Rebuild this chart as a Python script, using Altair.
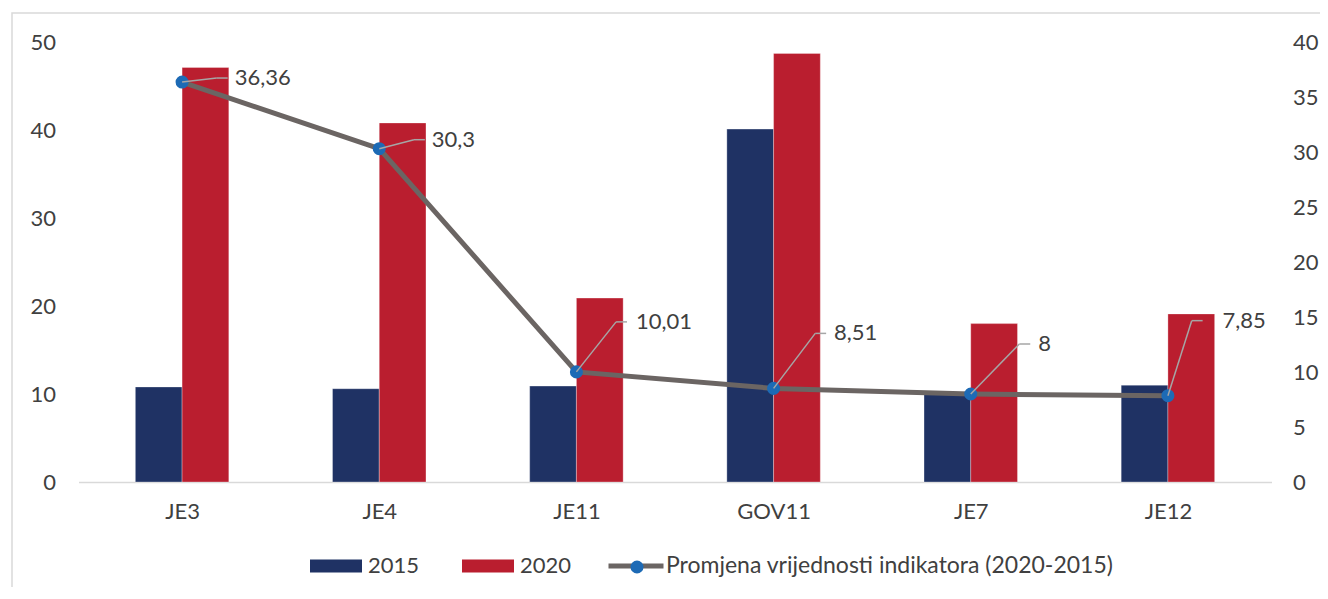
import json
import altair as alt
import pandas as pd

# ---------------- data ----------------
categories = ["JE3", "JE4", "JE11", "GOV11", "JE7", "JE12"]
series_names = ["2015", "2020"]
values_2015 = [10.8, 10.6, 10.9, 40.1, 10.0, 11.0]
values_2020 = [47.1, 40.8, 20.9, 48.7, 18.0, 19.1]
change = [36.36, 30.3, 10.01, 8.51, 8, 7.85]
line_name = "Promjena vrijednosti indikatora (2020-2015)"

# label leader geometry (pixels, relative to the point)
lead_dx = [35, 35, 40, 42, 49, 24]
lead_dy = [-4, -9, -50, -55, -50, -75]
hook_px = 11
label_gap = [7, 7, 9, 8, 8, 20]

# ---------------- style ----------------
W, H = 1193, 440
LEFT_MAX, RIGHT_MAX = 50, 40
BAR_FRAC = 0.237
BLUE, RED = "#1F3264", "#BA1E2F"
LINE_GRAY, DOT_BLUE, LEAD_GRAY = "#6B6563", "#1D6AB5", "#A6A6A6"
TXT = "#404040"
FONT = "Lato"
FS = 22

n = len(categories)
px_per_x = W / n
px_per_y = H / RIGHT_MAX

bar_rows = []
for i, c in enumerate(categories):
    bar_rows.append({"cat": c, "series": series_names[0], "x0": i - BAR_FRAC, "x1": i,
                     "v": values_2015[i], "base": 0})
    bar_rows.append({"cat": c, "series": series_names[1], "x0": i, "x1": i + BAR_FRAC,
                     "v": values_2020[i], "base": 0})
bars_df = pd.DataFrame(bar_rows)

line_df = pd.DataFrame({"idx": list(range(n)), "cat": categories, "change": change,
                        "lname": [line_name] * n, "marker": ["marker"] * n})

lead_rows = []
for i, v in enumerate(change):
    ex = i + lead_dx[i] / px_per_x
    ey = v - lead_dy[i] / px_per_y
    hx = ex + hook_px / px_per_x
    tx = hx + label_gap[i] / px_per_x
    lbl = f"{v:g}".replace(".", ",")
    lead_rows.append({"x": i, "y": v, "ex": ex, "ey": ey, "hx": hx, "tx": tx, "label": lbl})
lead_df = pd.DataFrame(lead_rows)

x_scale = alt.Scale(domain=[-0.5, n - 0.5], nice=False, zero=False)
x_axis = alt.Axis(
    values=list(range(n)),
    labelExpr=f"{json.dumps(categories)}[datum.value]",
    title=None, ticks=False, grid=False,
    domainColor="#D9D9D9", domainWidth=1.5,
    labelPadding=19, labelFontSize=FS, labelColor=TXT, labelFont=FONT,
)

yl_scale = alt.Scale(domain=[0, LEFT_MAX], nice=False)
yr_scale = alt.Scale(domain=[0, RIGHT_MAX], nice=False)
yl_axis = alt.Axis(values=list(range(0, LEFT_MAX + 1, 10)), title=None, ticks=False, domain=False,
                   grid=False, labelPadding=23, labelFontSize=FS, labelColor=TXT, labelFont=FONT)
yr_axis = alt.Axis(orient="right", values=list(range(0, RIGHT_MAX + 1, 5)), title=None, ticks=False,
                   domain=False, grid=False, labelPadding=21, labelFontSize=FS, labelColor=TXT,
                   labelFont=FONT)

bars = alt.Chart(bars_df).mark_bar(stroke="#ffffff", strokeWidth=0.6, strokeOpacity=0.5,
                                   orient="vertical").encode(
    x=alt.X("x0:Q", scale=x_scale, axis=x_axis),
    x2="x1:Q",
    y=alt.Y("v:Q", scale=yl_scale, axis=yl_axis),
    y2="base:Q",
    color=alt.Color(
        "series:N",
        scale=alt.Scale(domain=series_names, range=[BLUE, RED]),
        legend=alt.Legend(
            title=None, orient="none", legendX=231.5, legendY=498, direction="horizontal",
            symbolType="M-1,-0.25H1V0.25H-1Z", symbolSize=2704, symbolStrokeWidth=0,
            labelFontSize=FS, labelColor=TXT, labelFont=FONT, labelOffset=6, columnPadding=42,
            labelLimit=0,
        ),
    ),
)

y_right = alt.Y("change:Q", scale=yr_scale, axis=yr_axis)

line = alt.Chart(line_df).mark_line(strokeWidth=5).encode(
    x=alt.X("idx:Q", scale=x_scale),
    y=y_right,
    stroke=alt.Stroke(
        "lname:N",
        scale=alt.Scale(domain=[line_name], range=[LINE_GRAY]),
        legend=alt.Legend(
            title=None, orient="none", legendX=527.5, legendY=494,
            symbolType="stroke", symbolSize=55 * 55, symbolStrokeWidth=5,
            labelFontSize=23, labelColor=TXT, labelFont=FONT, labelOffset=0, labelLimit=0,
        ),
    ),
)

points = alt.Chart(line_df).mark_circle(size=170, opacity=1).encode(
    x=alt.X("idx:Q", scale=x_scale),
    y=y_right,
    fill=alt.Fill(
        "marker:N",
        scale=alt.Scale(domain=["marker"], range=[DOT_BLUE]),
        legend=alt.Legend(
            title=None, orient="none", legendX=547.5, legendY=514,
            symbolType="circle", symbolSize=170, symbolStrokeWidth=0, symbolOpacity=1,
            labelExpr="''", labelFontSize=FS,
        ),
    ),
)

lead1 = alt.Chart(lead_df).mark_rule(color=LEAD_GRAY, strokeWidth=1.5).encode(
    x=alt.X("x:Q", scale=x_scale), x2="ex:Q",
    y=alt.Y("y:Q", scale=yr_scale, axis=yr_axis), y2="ey:Q",
)
lead2 = alt.Chart(lead_df).mark_rule(color=LEAD_GRAY, strokeWidth=1.5).encode(
    x=alt.X("ex:Q", scale=x_scale), x2="hx:Q",
    y=alt.Y("ey:Q", scale=yr_scale, axis=yr_axis), y2="ey:Q",
)
labels = alt.Chart(lead_df).mark_text(align="left", baseline="middle", fontSize=FS,
                                       font=FONT, color=TXT).encode(
    x=alt.X("tx:Q", scale=x_scale),
    y=alt.Y("ey:Q", scale=yr_scale, axis=yr_axis),
    text="label:N",
)

frame = alt.Chart(pd.DataFrame({"f": [0]})).mark_rect(fill="transparent", stroke="#D9D9D9",
                                                      strokeWidth=1.5).encode(
    x=alt.value(-66.5), x2=alt.value(2000), y=alt.value(-29), y2=alt.value(1000)
)

right = alt.layer(line, points, lead1, lead2, labels)

chart = alt.layer(frame, bars, right).resolve_scale(y="independent").properties(
    width=W, height=H,
    autosize=alt.AutoSizeParams(type="none"),
    padding={"left": 70.5, "top": 34, "right": 48.5, "bottom": 105},
    background="white",
).configure_view(stroke=None)

chart.save("out.html", embed_options={"renderer": "svg", "actions": False})
